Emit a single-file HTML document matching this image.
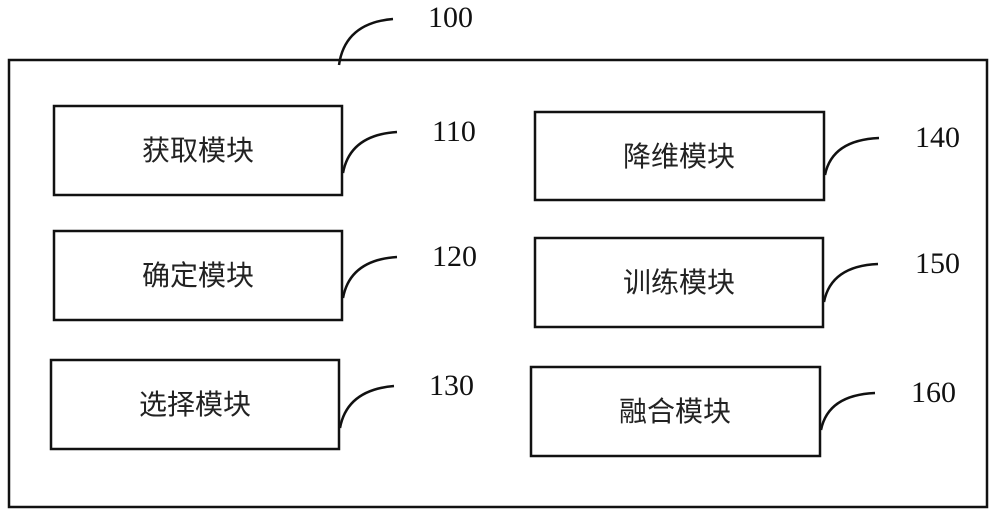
<!DOCTYPE html>
<html><head><meta charset="utf-8"><style>
html,body{margin:0;padding:0;background:#fff;}
svg{display:block;}
.t{font-family:"Liberation Sans","Noto Sans CJK SC",sans-serif;font-size:28px;fill:#222;text-anchor:middle;}
.n{font-family:"Liberation Serif",serif;font-size:30px;fill:#111;}
</style></head><body>
<svg width="999" height="516" viewBox="0 0 999 516" xmlns="http://www.w3.org/2000/svg">
<g fill="none" stroke="#111" stroke-width="2.5">
<rect x="9" y="60" width="978" height="447"/>
<rect x="54" y="106" width="288" height="89"/>
<rect x="54" y="231" width="288" height="89"/>
<rect x="51" y="360" width="288" height="89"/>
<rect x="535" y="112" width="289" height="88"/>
<rect x="535" y="238" width="288" height="89"/>
<rect x="531" y="367" width="289" height="89"/>
<path d="M339 65 Q345 23 393 19"/>
<path d="M343 173 Q350 135 397 132"/>
<path d="M343 298 Q350 260 397 257"/>
<path d="M340 428 Q347 390 394 386"/>
<path d="M825 175 Q832 140 879 138"/>
<path d="M824 302 Q831 266 878 264"/>
<path d="M821 430 Q828 395 875 393"/>
</g>
<text class="t" x="198" y="160">获取模块</text>
<text class="t" x="198" y="285">确定模块</text>
<text class="t" x="195" y="414">选择模块</text>
<text class="t" x="679" y="166">降维模块</text>
<text class="t" x="679" y="292">训练模块</text>
<text class="t" x="675" y="421">融合模块</text>
<text class="n" x="428" y="27">100</text>
<text class="n" x="432" y="141">110</text>
<text class="n" x="432" y="266">120</text>
<text class="n" x="429" y="395">130</text>
<text class="n" x="915" y="147">140</text>
<text class="n" x="915" y="273">150</text>
<text class="n" x="911" y="402">160</text>
</svg>
</body></html>
